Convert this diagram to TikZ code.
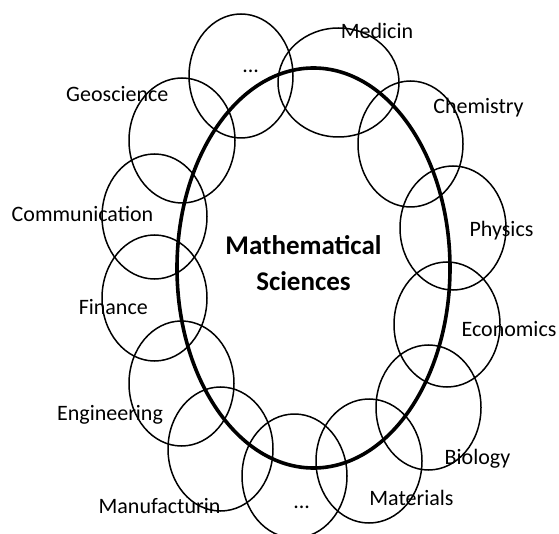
\documentclass[tikz,border=0pt]{standalone}
\usepackage{fontspec}
\setmainfont{Carlito}
\usepackage{tikz}

\begin{document}
\begin{tikzpicture}[
    x=1pt, y=-1pt,
    field/.style={draw=black, line width=1.5pt},
    core/.style={draw=black, line width=3.6pt},
    lbl/.style={anchor=base, inner sep=0pt, font=\fontsize{22}{26}\selectfont},
    title/.style={align=center, inner sep=0pt, font=\fontsize{27}{36.7}\selectfont\bfseries},
  ]
    \useasboundingbox (0,0) rectangle (559,534);

    % ---------- application areas ----------
    \foreach \cx/\cy/\rx/\ry in {241/76/52/62, 338.5/82.5/60.5/54.5, 410.5/144/52.5/63,
        453/228/53/62, 447/324.5/53/62.5, 428.5/407.5/52.5/62.5, 369/461/53/62,
        294.5/476/52.5/62, 220.5/449/52.5/62, 181.5/383.5/52.5/62.5,
        154.5/298/52.5/63, 154.5/216.5/52.5/62.5, 182/140.5/53/62.5}
      \draw[field] (\cx,\cy) ellipse [x radius=\rx pt, y radius=\ry pt];

    % ---------- core ----------
    \draw[core] (313.5,268) ellipse [x radius=136.5pt, y radius=200pt];
    \node[title] (math) at (303.5,263) {Mathematical\\Sciences};

    % ---------- labels ----------
    \node[lbl] (dotsTop) at (250.7,72.5)  {...};
    \node[lbl] (med)     at (377,38.5)    {Medicin};
    \node[lbl] (chem)    at (478.5,113.3) {Chemistry};
    \node[lbl] (phys)    at (501.5,236.7) {Physics};
    \node[lbl] (econ)    at (509,336.7)   {Economics};
    \node[lbl] (bio)     at (477.5,464)   {Biology};
    \node[lbl] (mat)     at (411.5,505.7) {Materials};
    \node[lbl] (dotsBot) at (301.7,508.5) {...};
    \node[lbl] (manu)    at (159.5,513.3) {Manufacturin};
    \node[lbl] (eng)     at (110,420.7)   {Engineering};
    \node[lbl] (fin)     at (113.3,314.7) {Finance};
    \node[lbl] (comm)    at (82.5,221.7)  {Communication};
    \node[lbl] (geo)     at (117.3,101.7) {Geoscience};
  \end{tikzpicture}
\end{document}
